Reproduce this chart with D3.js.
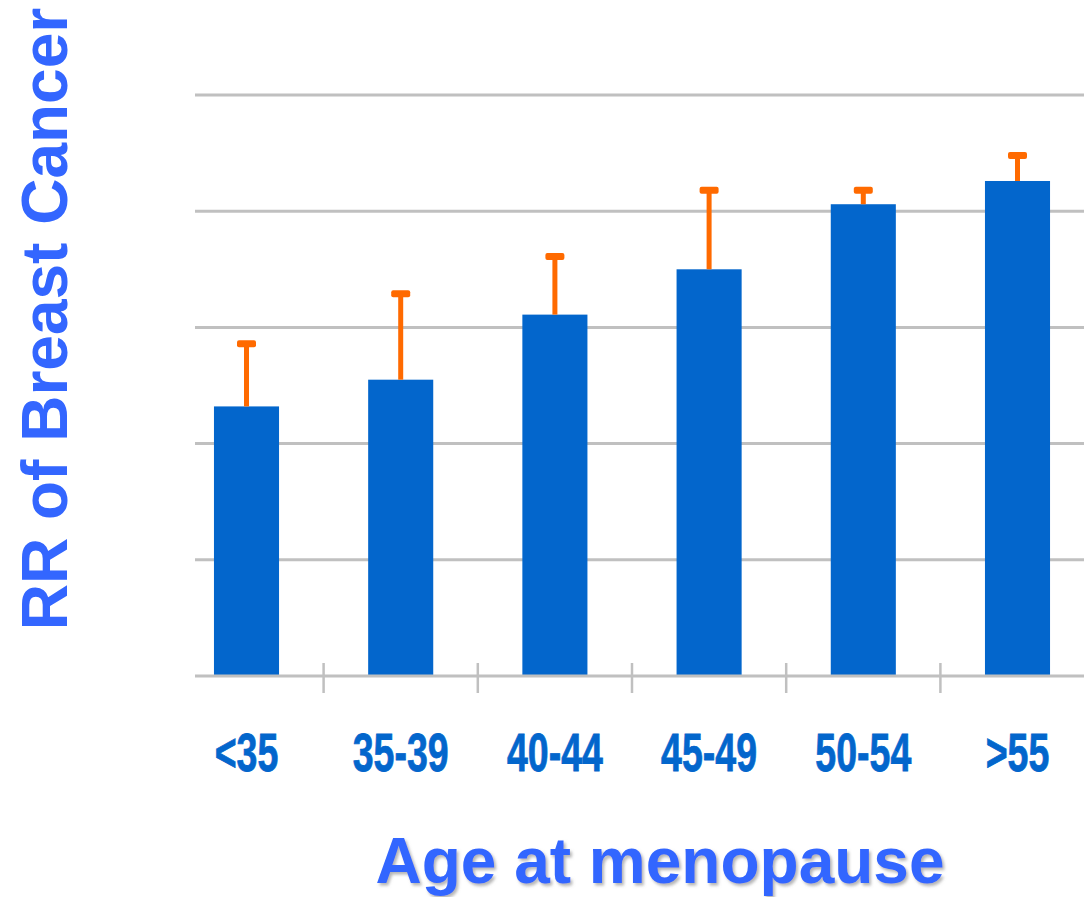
<!DOCTYPE html>
<html>
<head>
<meta charset="utf-8">
<script src="https://cdn.jsdelivr.net/npm/d3@7"></script>
<style>
  html, body { margin: 0; padding: 0; background: #fff; }
  svg { display: block; }
</style>
</head>
<body>
<script>
// ---- data ----
const categories = ["<35", "35-39", "40-44", "45-49", "50-54", ">55"];
const rrValues   = [2.32, 2.55, 3.11, 3.50, 4.06, 4.26];
const upperCI    = [2.86, 3.29, 3.61, 4.18, 4.18, 4.48];
const gridTicks  = [0, 1, 2, 3, 4, 5];
const xTitle = "Age at menopause";
const yTitle = "RR of Breast Cancer";

const W = 1084, H = 897;
const svg = d3.select("body").append("svg").attr("width", W).attr("height", H);

const defs = svg.append("defs");
const f = defs.append("filter").attr("id", "shadow").attr("x", "-5%").attr("y", "-20%").attr("width", "110%").attr("height", "150%");
f.append("feDropShadow").attr("dx", 2).attr("dy", 2.5).attr("stdDeviation", 1.5)
  .attr("flood-color", "#777").attr("flood-opacity", 0.55);

const x = d3.scaleBand().domain(categories).range([169.4, 1094.6])
  .paddingInner(0.578).paddingOuter(0.289);
const y = d3.scaleLinear().domain([0, 5]).range([676, 95]);

const gridX0 = 195, gridX1 = W;
const gridColor = "#c0c0c0";

// gridlines (except baseline)
svg.append("g").selectAll("line")
  .data(gridTicks.filter(d => d > 0))
  .join("line")
  .attr("x1", gridX0).attr("x2", gridX1)
  .attr("y1", d => y(d)).attr("y2", d => y(d))
  .attr("stroke", gridColor).attr("stroke-width", 3);

// bars
svg.append("g").selectAll("rect")
  .data(categories)
  .join("rect")
  .attr("x", d => x(d))
  .attr("width", x.bandwidth())
  .attr("y", (d, i) => y(rrValues[i]))
  .attr("height", (d, i) => y(0) - y(rrValues[i]))
  .attr("fill", "#0366cc");

// error bars
const eb = svg.append("g");
eb.selectAll("line")
  .data(categories)
  .join("line")
  .attr("x1", d => x(d) + x.bandwidth() / 2)
  .attr("x2", d => x(d) + x.bandwidth() / 2)
  .attr("y1", (d, i) => y(rrValues[i]))
  .attr("y2", (d, i) => y(upperCI[i]))
  .attr("stroke", "#ff6a00").attr("stroke-width", 5);
eb.selectAll("rect")
  .data(categories)
  .join("rect")
  .attr("x", d => x(d) + x.bandwidth() / 2 - 9.5)
  .attr("y", (d, i) => y(upperCI[i]) - 3.5)
  .attr("width", 19).attr("height", 7).attr("rx", 2)
  .attr("fill", "#ff6a00");

// baseline
svg.append("line")
  .attr("x1", gridX0).attr("x2", gridX1)
  .attr("y1", y(0)).attr("y2", y(0))
  .attr("stroke", gridColor).attr("stroke-width", 3);

// category boundary ticks
const step = x.step();
svg.append("g").selectAll("line")
  .data(categories.slice(1))
  .join("line")
  .attr("x1", d => x(d) - (step - x.bandwidth()) / 2)
  .attr("x2", d => x(d) - (step - x.bandwidth()) / 2)
  .attr("y1", y(0) - 13).attr("y2", y(0) + 17)
  .attr("stroke", gridColor).attr("stroke-width", 2.5);

// category labels
svg.append("g").selectAll("text")
  .data(categories)
  .join("text")
  .attr("transform", d => `translate(${x(d) + x.bandwidth() / 2},771) scale(0.695,1)`)
  .attr("text-anchor", "middle")
  .attr("font-family", "'Liberation Sans', Arial, sans-serif")
  .attr("font-weight", "bold")
  .attr("font-size", 54)
  .attr("fill", "#0366cc")
  .attr("stroke", "#0366cc").attr("stroke-width", 0.8)
  .text(d => d);

// axis titles
svg.append("text")
  .attr("x", 660).attr("y", 883)
  .attr("text-anchor", "middle")
  .attr("font-family", "'Liberation Sans', Arial, sans-serif")
  .attr("font-weight", "bold")
  .attr("font-size", 64)
  .attr("fill", "#3366ff")
  .attr("filter", "url(#shadow)")
  .text(xTitle);

svg.append("text")
  .attr("transform", "translate(67,319) rotate(-90)")
  .attr("text-anchor", "middle")
  .attr("font-family", "'Liberation Sans', Arial, sans-serif")
  .attr("font-weight", "bold")
  .attr("font-size", 64)
  .attr("fill", "#3366ff")
  .text(yTitle);
</script>
</body>
</html>
